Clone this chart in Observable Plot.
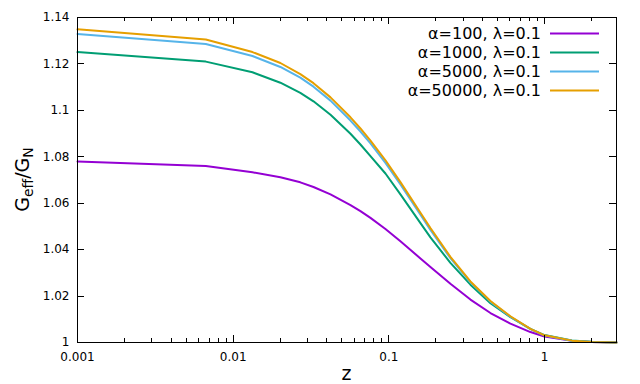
<!DOCTYPE html>
<html>
<head>
<meta charset="utf-8">
<script src="https://cdn.jsdelivr.net/npm/d3@7"></script>
<script src="https://cdn.jsdelivr.net/npm/@observablehq/plot@0.6"></script>
<style>
  body { margin: 0; background: #fff; }
  #chart svg { display: block; }
</style>
</head>
<body>
<div id="chart"></div>
<script>
const zValues = [0.001, 0.00667, 0.0133, 0.0201, 0.027, 0.0328, 0.0422, 0.0567, 0.0657, 0.0762,
  0.0951, 0.1187, 0.1596, 0.185, 0.2486, 0.3343, 0.4494, 0.604, 0.8117, 1.0, 1.5, 2.0, 2.9];
const gAlpha100 = [1.0780, 1.0760, 1.0733, 1.0712, 1.0690, 1.0670, 1.0638, 1.0592, 1.0566, 1.0537,
  1.0489, 1.0436, 1.0362, 1.0325, 1.0253, 1.0185, 1.0127, 1.0081, 1.0045, 1.0026, 1.0007, 1.0002, 1.0000];
const gAlpha1000 = [1.1251, 1.1210, 1.1164, 1.1119, 1.1075, 1.1039, 1.0981, 1.0899, 1.0853, 1.0803,
  1.0728, 1.0638, 1.0514, 1.0453, 1.0343, 1.0249, 1.0169, 1.0109, 1.0059, 1.0032, 1.0009, 1.0003, 1.0000];
const gAlpha5000 = [1.1329, 1.1286, 1.1234, 1.1187, 1.1141, 1.1102, 1.1042, 1.0956, 1.0909, 1.0858,
  1.0774, 1.0681, 1.0550, 1.0485, 1.0363, 1.0259, 1.0176, 1.0111, 1.0058, 1.0030, 1.0008, 1.0002, 1.0000];
const gAlpha50000 = [1.1349, 1.1305, 1.1251, 1.1204, 1.1156, 1.1117, 1.1056, 1.0970, 1.0922, 1.0870,
  1.0785, 1.0691, 1.0559, 1.0493, 1.0369, 1.0263, 1.0179, 1.0113, 1.0059, 1.0031, 1.0008, 1.0002, 1.0000];

const seriesLabels = ["α=100, λ=0.1", "α=1000, λ=0.1", "α=5000, λ=0.1", "α=50000, λ=0.1"];
const seriesColors = ["#9400d3", "#009e73", "#56b4e9", "#e69f00"];

const xTicks = [0.001, 0.01, 0.1, 1];
const xMinorTicks = [0.002, 0.003, 0.004, 0.005, 0.006, 0.007, 0.008, 0.009,
  0.02, 0.03, 0.04, 0.05, 0.06, 0.07, 0.08, 0.09,
  0.2, 0.3, 0.4, 0.5, 0.6, 0.7, 0.8, 0.9, 2];
const yTicks = [1, 1.02, 1.04, 1.06, 1.08, 1.1, 1.12, 1.14];
const xDomain = [0.001, 2.9];
const yDomain = [1, 1.14];

const allSeries = [gAlpha100, gAlpha1000, gAlpha5000, gAlpha50000];
const rows = [];
allSeries.forEach((vals, s) => vals.forEach((v, i) => rows.push({z: zValues[i], g: v, series: seriesLabels[s]})));

const FONT = "DejaVu Sans, sans-serif";
const W = 640, H = 384, ML = 77, MR = 24, MT = 17, MB = 42;
const MAJOR = 7, MINOR = 4;

function labelsLegend(index, scales, values, dims) {
  const g = d3.create("svg:g").attr("font-family", FONT).attr("fill", "black");
  const l = dims.marginLeft, r = dims.width - dims.marginRight;
  const t = dims.marginTop, b = dims.height - dims.marginBottom;
  seriesLabels.forEach((lab, i) => {
    const y = t + 16.5 + 19 * i;
    g.append("text").attr("x", r - 75).attr("y", y).attr("dy", "0.35em")
      .attr("text-anchor", "end").attr("font-size", 16).text(lab);
    g.append("line").attr("x1", r - 66).attr("x2", r - 17)
      .attr("y1", y).attr("y2", y).attr("stroke", scales.color(lab)).attr("stroke-width", 2);
  });
  g.append("text").attr("x", (l + r) / 2).attr("y", b + 38)
    .attr("text-anchor", "middle").attr("font-size", 19).text("z");
  const yl = g.append("text").attr("transform", `translate(29,${(t + b) / 2}) rotate(-90)`)
    .attr("text-anchor", "middle").attr("font-size", 19);
  yl.append("tspan").text("G");
  yl.append("tspan").attr("font-size", 14).attr("dy", 4).text("eff");
  yl.append("tspan").attr("dy", -4).text("/G");
  yl.append("tspan").attr("font-size", 14).attr("dy", 4).text("N");
  return g.node();
}

const chart = Plot.plot({
  width: W, height: H,
  marginLeft: ML, marginRight: MR, marginTop: MT, marginBottom: MB,
  style: {fontFamily: FONT, fontSize: "12px", background: "white", color: "black"},
  x: {type: "log", domain: xDomain},
  y: {domain: yDomain},
  color: {domain: seriesLabels, range: seriesColors},
  marks: [
    Plot.axisX({anchor: "bottom", ticks: xTicks, tickSize: 0, tickPadding: 10, tickFormat: d => String(d), label: null}),
    Plot.axisY({anchor: "left", ticks: yTicks, tickSize: 0, tickPadding: 8, tickFormat: d3.format("~g"), label: null}),
    Plot.line(rows, {x: "z", y: "g", z: "series", stroke: "series", strokeWidth: 2}),
    Plot.frame({stroke: "black", strokeWidth: 1}),
    labelsLegend
  ]
});

// inward gnuplot-style ticks on all four sides, placed with the plot's own scales
(function addTicks() {
  const sx = chart.scale("x"), sy = chart.scale("y");
  const fl = ML, fr = W - MR, ft = MT, fb = H - MB;
  const tg = d3.select(chart).append("g").attr("stroke", "black").attr("stroke-width", 1);
  function xt(list, len) {
    list.forEach(v => {
      const x = Math.round(sx.apply(v)) + 0.5;
      tg.append("line").attr("x1", x).attr("x2", x).attr("y1", fb).attr("y2", fb - len);
      tg.append("line").attr("x1", x).attr("x2", x).attr("y1", ft).attr("y2", ft + len);
    });
  }
  xt(xTicks, MAJOR); xt(xMinorTicks, MINOR);
  yTicks.forEach(v => {
    const y = Math.round(sy.apply(v)) + 0.5;
    tg.append("line").attr("x1", fl).attr("x2", fl + MAJOR).attr("y1", y).attr("y2", y);
    tg.append("line").attr("x1", fr).attr("x2", fr - MAJOR).attr("y1", y).attr("y2", y);
  });
})();
document.getElementById("chart").appendChild(chart);
</script>
</body>
</html>
